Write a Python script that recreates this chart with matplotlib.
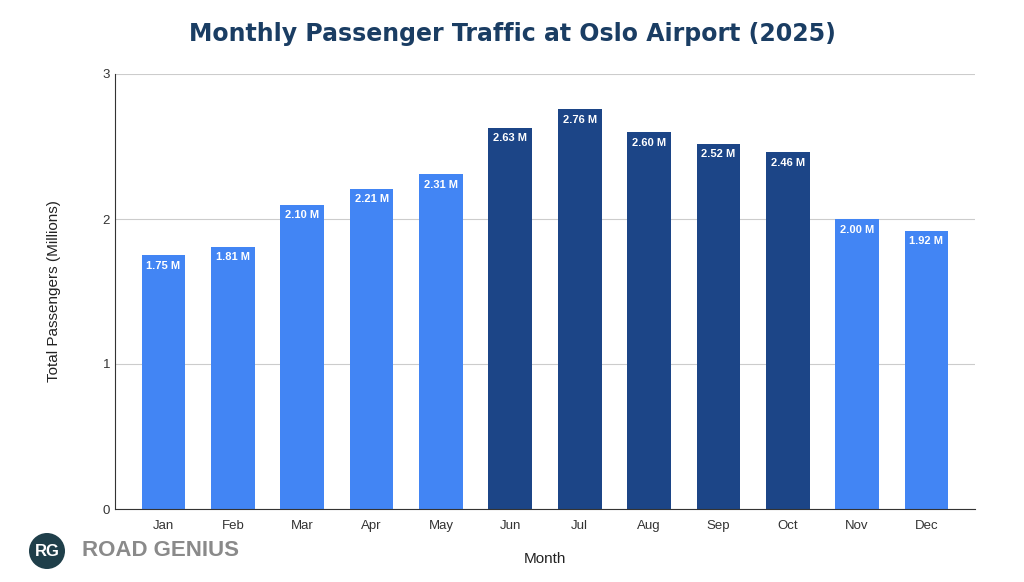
import matplotlib.pyplot as plt
from matplotlib.patches import Ellipse

plt.rcParams['font.family'] = ['Liberation Sans', 'DejaVu Sans']

months = ['Jan', 'Feb', 'Mar', 'Apr', 'May', 'Jun', 'Jul', 'Aug', 'Sep', 'Oct', 'Nov', 'Dec']
passengers = [1.75, 1.81, 2.10, 2.21, 2.31, 2.63, 2.76, 2.60, 2.52, 2.46, 2.00, 1.92]
peak_months = ['Jun', 'Jul', 'Aug', 'Sep', 'Oct']

light = '#4285F4'
dark = '#1C4587'
colors = [dark if m in peak_months else light for m in months]

fig = plt.figure(figsize=(10.24, 5.82), dpi=100)
ax = fig.add_axes([115 / 1024, 1 - 509 / 582, 860 / 1024, 435 / 582])

bars = ax.bar(months, passengers, color=colors, width=0.63, zorder=2)
for b, v in zip(bars, passengers):
    ax.text(b.get_x() + b.get_width() / 2, v - 0.04, f'{v:.2f} M', ha='center', va='top',
            color='white', fontsize=8, fontweight='bold')

ax.set_ylim(0, 3)
ax.set_xlim(-0.7, 11.7)
ax.set_yticks([0, 1, 2, 3])
ax.grid(axis='y', color='#cccccc', linewidth=0.8, zorder=0)
for s in ['top', 'right']:
    ax.spines[s].set_visible(False)
ax.spines['left'].set_color('#333333')
ax.spines['bottom'].set_color('#333333')
ax.tick_params(length=0, labelsize=9.5, colors='#333333')
ax.tick_params(axis='x', pad=8)
ax.set_ylabel('Total Passengers (Millions)', fontsize=11, color='#222222', labelpad=30)
ax.set_xlabel('Month', fontsize=11, color='#222222', labelpad=14)

fig.text(0.5, 1 - 34 / 582, 'Monthly Passenger Traffic at Oslo Airport (2025)', ha='center', va='center',
         fontsize=17, fontweight='bold', color='#1A3D63', family=['DejaVu Sans'])

# logo
fig.patches.append(Ellipse((47 / 1024, 1 - 551 / 582), 36 / 1024, 36 / 582, transform=fig.transFigure,
                           facecolor='#1F3F4A', edgecolor='none'))
fig.text(47 / 1024, 1 - 551 / 582, 'RG', ha='center', va='center', fontsize=12,
         fontweight='bold', color='white')
fig.text(82 / 1024, 1 - 550 / 582, 'ROAD GENIUS', ha='left', va='center', fontsize=16,
         fontweight='bold', color='#8a8a8a')

fig.savefig('out.png', dpi=100)
